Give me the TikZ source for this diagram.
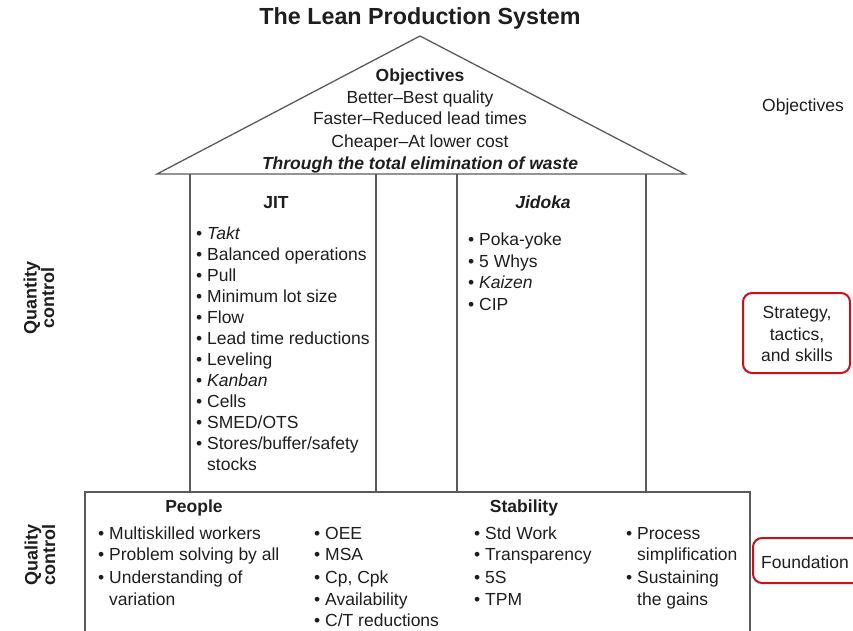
\documentclass[tikz,border=0pt]{standalone}
\usepackage{fontspec}
\setmainfont{Liberation Sans}
\definecolor{ink}{HTML}{1E1E1E}
\definecolor{framegray}{HTML}{5A5A5A}
\definecolor{tagred}{HTML}{C8101E}
\begin{document}
\begin{tikzpicture}[x=1pt,y=-1pt,
  txt/.style={inner sep=0pt, text=ink, font=\fontsize{17.5}{21}\selectfont},
  line/.style={txt, text height=14.5pt, text depth=1.5pt},
  item/.style={line, anchor=west},
  head/.style={line, font=\fontsize{17.5}{21}\selectfont\bfseries},
  side/.style={txt, rotate=90, align=center, font=\fontsize{18}{17.5}\selectfont\bfseries},
  frame/.style={draw=framegray, line width=1.3pt},
  tag/.style={draw=tagred, line width=2pt, rounded corners=9pt}]

\useasboundingbox (0,0) rectangle (853,631);
\clip (0,0) rectangle (853,631);

% title
\node[txt, font=\fontsize{23.3}{27}\selectfont\bfseries] (title) at (420,18) {The Lean Production System};

% roof
\draw[frame, line join=miter] (157,174) -- (420,36) -- (685,174) -- cycle;
\node[head] (obj) at (420,75) {Objectives};
\node[line] (obj1) at (420,97) {Better--Best quality};
\node[line] (obj2) at (420,118) {Faster--Reduced lead times};
\node[line] (obj3) at (420,141) {Cheaper--At lower cost};
\node[head, font=\fontsize{17.5}{21}\selectfont\bfseries\itshape] (obj4) at (420,163) {Through the total elimination of waste};

% pillars
\foreach \x in {190, 376, 457, 646}
  \draw[frame] (\x,174) -- (\x,492);

% JIT pillar
\node[head] (jit) at (276,202) {JIT};
\foreach \t [count=\i] in {{\textit{Takt}}, Balanced operations, Pull, Minimum lot size,
    Flow, Lead time reductions, Leveling, {\textit{Kanban}}, Cells, SMED/OTS,
    Stores/buffer/safety}
  \node[item] (jit\i) at (196,{233+21*(\i-1)}) {\textbullet\ \t};
\node[item] (jit12) at (196,464) {\phantom{\textbullet\ }stocks};

% Jidoka pillar
\node[head, font=\fontsize{17.5}{21}\selectfont\bfseries\itshape] (jid) at (543,202) {Jidoka};
\foreach \t [count=\i] in {Poka-yoke, 5 Whys, {\textit{Kaizen}}, CIP}
  \node[item] (jid\i) at (468,{239+21.7*(\i-1)}) {\textbullet\ \t};

% foundation
\draw[frame] (85,650) -- (85,492) -- (750,492) -- (750,650);
\node[head] (people) at (194,506) {People};
\node[head] (stab) at (524,506) {Stability};

\node[item] (p1) at (98,533) {\textbullet\ Multiskilled workers};
\node[item] (p2) at (98,554) {\textbullet\ Problem solving by all};
\node[item] (p3) at (98,577) {\textbullet\ Understanding of};
\node[item] (p4) at (98,599) {\phantom{\textbullet\ }variation};

\node[item] (q1) at (314,533) {\textbullet\ OEE};
\node[item] (q2) at (314,554) {\textbullet\ MSA};
\node[item] (q3) at (314,577) {\textbullet\ Cp, Cpk};
\node[item] (q4) at (314,599) {\textbullet\ Availability};
\node[item] (q5) at (314,620) {\textbullet\ C/T reductions};

\node[item] (s1) at (474,533) {\textbullet\ Std Work};
\node[item] (s2) at (474,554) {\textbullet\ Transparency};
\node[item] (s3) at (474,577) {\textbullet\ 5S};
\node[item] (s4) at (474,599) {\textbullet\ TPM};

\node[item] (t1) at (626,533) {\textbullet\ Process};
\node[item] (t2) at (626,554) {\phantom{\textbullet\ }simplification};
\node[item] (t3) at (626,577) {\textbullet\ Sustaining};
\node[item] (t4) at (626,599) {\phantom{\textbullet\ }the gains};

% side labels
\node[side] (qty) at (39,298) {Quantity\\control};
\node[side] (qual) at (40,555) {Quality\\control};

% right-hand labels
\node[line] (robj) at (803,105) {Objectives};

\draw[tag] (743,293) rectangle (850,373);
\node[line] (st1) at (797,312) {Strategy,};
\node[line] (st2) at (797,334) {tactics,};
\node[line] (st3) at (797,355) {and skills};

\draw[tag] (753,538) rectangle (880,583);
\node[item] (fnd) at (761,562) {Foundation};
\end{tikzpicture}
\end{document}
